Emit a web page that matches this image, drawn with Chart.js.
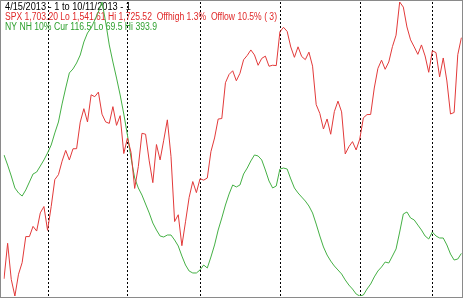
<!DOCTYPE html>
<html>
<head>
<meta charset="utf-8">
<script src="https://cdn.jsdelivr.net/npm/chart.js@4"></script>
<style>
  html, body { margin: 0; padding: 0; background: #fff; }
</style>
</head>
<body>
<canvas id="myChart" width="463" height="298"></canvas>
<script>
// trading days 4/15/2013 .. 10/11/2013
var days = [
  "4/15","4/16","4/17","4/18","4/19","4/22","4/23","4/24","4/25","4/26","4/29","4/30",
  "5/1","5/2","5/3","5/6","5/7","5/8","5/9","5/10","5/13","5/14","5/15","5/16","5/17","5/20","5/21","5/22","5/23","5/24","5/28","5/29","5/30","5/31",
  "6/3","6/4","6/5","6/6","6/7","6/10","6/11","6/12","6/13","6/14","6/17","6/18","6/19","6/20","6/21","6/24","6/25","6/26","6/27","6/28",
  "7/1","7/2","7/3","7/5","7/8","7/9","7/10","7/11","7/12","7/15","7/16","7/17","7/18","7/19","7/22","7/23","7/24","7/25","7/26","7/29","7/30","7/31",
  "8/1","8/2","8/5","8/6","8/7","8/8","8/9","8/12","8/13","8/14","8/15","8/16","8/19","8/20","8/21","8/22","8/23","8/26","8/27","8/28","8/29","8/30",
  "9/3","9/4","9/5","9/6","9/9","9/10","9/11","9/12","9/13","9/16","9/17","9/18","9/19","9/20","9/23","9/24","9/25","9/26","9/27","9/30",
  "10/1","10/2","10/3","10/4","10/7","10/8","10/9","10/10","10/11"
];

var monthStarts = ["5/1", "6/3", "7/1", "8/1", "9/3", "10/1"];

var spx = [
  1552.36,1574.57,1552.01,1541.61,1555.25,1562.50,1578.78,1578.79,1585.16,1582.24,1593.61,1597.57,
  1582.70,1597.59,1614.42,1617.50,1625.96,1632.69,1626.67,1633.70,1633.77,1650.34,1658.78,1650.47,1667.47,1666.29,1669.16,1655.35,1650.51,1649.60,1660.06,1648.36,1654.41,1630.74,
  1640.42,1631.38,1608.90,1622.56,1643.38,1642.81,1626.13,1612.52,1636.36,1626.73,1639.04,1651.81,1628.93,1588.19,1592.43,1573.09,1588.03,1603.26,1613.20,1606.28,
  1614.96,1614.08,1615.41,1631.89,1640.46,1652.32,1652.62,1675.02,1680.19,1682.50,1676.26,1680.91,1689.37,1692.09,1695.53,1692.39,1685.94,1690.25,1691.65,1685.33,1685.96,1685.73,
  1706.87,1709.67,1707.14,1697.37,1690.91,1697.48,1691.42,1689.47,1694.16,1685.39,1661.32,1655.83,1646.06,1652.35,1642.80,1656.96,1663.50,1656.78,1630.48,1634.96,1638.17,1632.97,
  1639.77,1653.08,1655.08,1655.17,1671.71,1683.99,1689.13,1683.42,1687.99,1697.60,1704.76,1725.52,1722.34,1709.91,1701.84,1697.42,1692.77,1698.67,1691.75,1681.55,
  1695.00,1693.87,1678.66,1690.50,1676.12,1655.45,1656.40,1692.56,1703.20
];

// NYSE new highs, 10 day average
var nyNH = [
  225.1,214.0,201.9,188.7,183.2,179.8,186.5,195.3,204.1,206.3,212.9,219.6,
  227.3,236.1,249.4,261.5,281.4,299.0,315.6,320.0,326.6,335.4,349.8,359.7,365.2,374.0,382.9,393.9,371.8,346.5,327.7,310.0,291.3,270.3,
  247.1,221.8,199.7,188.7,180.9,171.0,161.1,150.0,142.3,135.7,134.6,136.8,136.8,131.3,124.7,113.6,103.7,97.1,94.9,94.9,
  98.2,103.7,100.4,112.5,125.8,142.3,155.6,169.9,182.0,192.0,189.8,192.0,204.1,210.7,218.5,225.1,224.0,219.6,208.5,196.4,188.7,190.9,
  209.6,210.7,209.6,198.6,188.7,183.2,178.7,174.3,168.8,161.1,148.9,135.7,123.6,114.7,108.1,102.6,98.2,93.8,87.2,81.6,77.2,71.7,
  69.5,70.6,77.2,82.7,90.5,97.1,101.5,107.0,105.9,113.6,121.4,140.1,160.0,162.2,155.6,153.4,147.8,142.3,135.7,132.4,
  140.1,135.7,133.5,133.5,125.8,115.8,109.2,110.3,116.5
];

var headerLines = [
  { text: "4/15/2013 - 1 to 10/11/2013 - 1", color: "#000000", width: 126 },
  { text: "SPX 1,703.20 Lo 1,541.61 Hi 1,725.52  Offhigh 1.3%  Offlow 10.5% ( 3)", color: "#e02828", width: 272 },
  { text: "NY NH 10% Cur 116.5 Lo 69.5 Hi 393.9", color: "#2ea02e", width: 152 }
];

const decor = {
  id: 'decor',
  beforeDatasetsDraw(chart) {
    const ctx = chart.ctx;
    const area = chart.chartArea;
    const xs = chart.scales.x;
    ctx.save();
    // month separators
    ctx.strokeStyle = '#000';
    ctx.lineWidth = 1;
    ctx.setLineDash([2, 2]);
    monthStarts.forEach(function (d) {
      var px = Math.round(xs.getPixelForValue(days.indexOf(d))) + 0.5;
      ctx.beginPath();
      ctx.moveTo(px, area.top);
      ctx.lineTo(px, area.bottom + 2);
      ctx.stroke();
    });
    ctx.setLineDash([]);
    // header text
    ctx.font = '10px "Liberation Sans", Arial, sans-serif';
    ctx.textBaseline = 'alphabetic';
    headerLines.forEach(function (l, i) {
      ctx.fillStyle = l.color;
      ctx.fillText(l.text, 5, 10 + i * 10, l.width);
    });
    ctx.restore();
  },
  afterDraw(chart) {
    const ctx = chart.ctx;
    ctx.save();
    ctx.strokeStyle = '#8a8a8a';
    ctx.lineWidth = 1;
    ctx.strokeRect(0.5, 0.5, chart.width - 1, chart.height - 1);
    ctx.restore();
  }
};

new Chart(document.getElementById('myChart'), {
  type: 'line',
  data: {
    labels: days,
    datasets: [
      {
        label: 'SPX',
        data: spx,
        yAxisID: 'ySpx',
        borderColor: '#e23a3a',
        borderWidth: 1,
        pointRadius: 0,
        tension: 0
      },
      {
        label: 'NY NH 10%',
        data: nyNH,
        yAxisID: 'yNh',
        borderColor: '#45b045',
        borderWidth: 1,
        pointRadius: 0,
        tension: 0
      }
    ]
  },
  options: {
    responsive: false,
    animation: false,
    layout: { padding: { left: 4, right: 1.6, top: 2, bottom: 2 } },
    plugins: {
      legend: { display: false },
      tooltip: { enabled: false }
    },
    scales: {
      x: { display: false, offset: false },
      ySpx: { display: false, min: 1541.61, max: 1725.52 },
      yNh: { display: false, min: 69.5, max: 393.9 }
    }
  },
  plugins: [decor]
});
</script>
</body>
</html>
